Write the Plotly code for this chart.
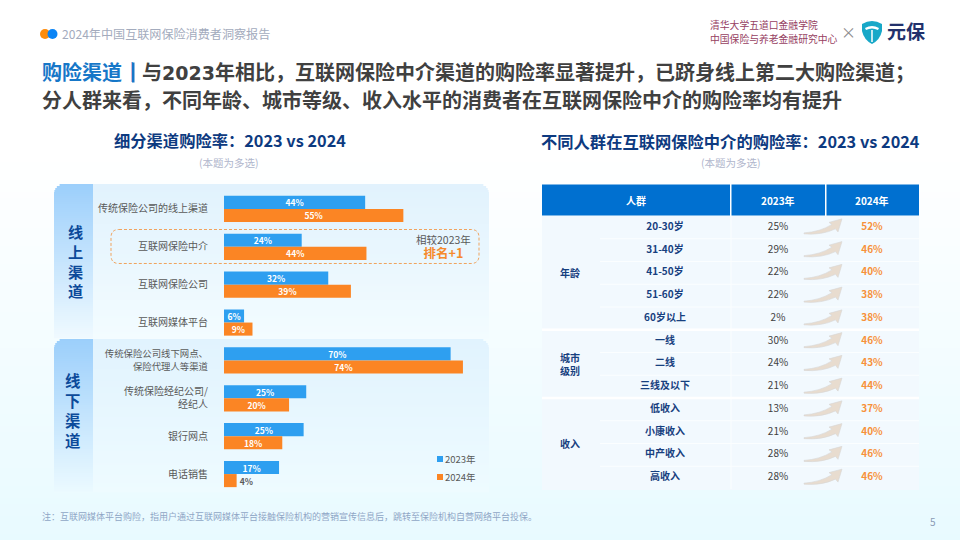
import math
import plotly.graph_objects as go

W, H = 960, 540
CJK = "Noto Sans CJK SC"

channels = ["传统保险公司的线上渠道", "互联网保险中介", "互联网保险公司", "互联网媒体平台",
            "传统保险公司线下网点、<br>保险代理人等渠道", "传统保险经纪公司/<br>经纪人", "银行网点", "电话销售"]
buy_2023 = [43.6, 24, 32.2, 6.2, 70, 25.4, 24.6, 17]
buy_2024 = [55.4, 44, 39.2, 8.8, 73.8, 20.1, 18, 3.9]

groups = ["年龄", "城市<br>级别", "收入"]
group_sizes = [5, 3, 4]
people = ["20-30岁", "31-40岁", "41-50岁", "51-60岁", "60岁以上", "一线", "二线", "三线及以下",
          "低收入", "小康收入", "中产收入", "高收入"]
rate_2023 = [25, 29, 22, 22, 2, 30, 24, 21, 13, 21, 28, 28]
rate_2024 = [52, 46, 40, 38, 38, 46, 43, 44, 37, 40, 46, 46]


def fx(px):
    return px / W


def fy(px):
    return 1 - px / H


def mix(c0, c1, t):
    return "rgb(%d,%d,%d)" % tuple(round(a + (b - a) * t) for a, b in zip(c0, c1))


shapes = []
annotations = []


def add_text(x, y, text, size, color, bold=False, anchor="center"):
    if bold:
        text = "<b>" + text + "</b>"
    if anchor == "left":
        x -= 2
    annotations.append(dict(x=fx(x), y=fy(y), xref="paper", yref="paper", text=text, showarrow=False,
                            xanchor=anchor, yanchor="middle", align=anchor,
                            font=dict(family=CJK, size=size, color=color)))


def add_rect(x0, y0, x1, y1, color):
    shapes.append(dict(type="rect", xref="paper", yref="paper", x0=fx(x0), x1=fx(x1), y0=fy(y0), y1=fy(y1),
                       fillcolor=color, line_width=0, layer="below"))


def add_line(x0, y0, x1, y1, color, width=1):
    shapes.append(dict(type="line", xref="paper", yref="paper", x0=fx(x0), x1=fx(x1), y0=fy(y0), y1=fy(y1),
                       line=dict(color=color, width=width), layer="below"))


def add_path(points, fill, line=None, dash=None, width=1):
    # pixel points, converted to paper coords
    out = []
    for cmd, *nums in points:
        xy = []
        for i in range(0, len(nums), 2):
            xy.append("%.5f,%.5f" % (fx(nums[i]), fy(nums[i + 1])))
        out.append(cmd + " " + " ".join(xy))
    shapes.append(dict(type="path", xref="paper", yref="paper", path=" ".join(out) + " Z", fillcolor=fill,
                       line=dict(color=line or "rgba(0,0,0,0)", width=width, dash=dash or "solid"), layer="below"))


def gradient(x0, x1, y0, y1, c0, c1, r=0, left_only=False, step=2):
    y = y0
    while y < y1:
        inset = 0
        if r and y - y0 < r:
            d = r - (y + step / 2 - y0)
            inset = r - math.sqrt(max(r * r - d * d, 0))
        right = x1 if left_only else x1 - inset
        add_rect(x0 + inset, y, right, min(y + step, y1) + 0.3, mix(c0, c1, (y - y0) / (y1 - y0)))
        y += step


# page background
gradient(0, W, 150, H, (255, 255, 255), (232, 250, 255), step=6)

# left panels
gradient(54, 489, 184, 338, (225, 242, 253), (243, 252, 255), r=10)
gradient(54, 489, 339, 492, (225, 243, 254), (238, 251, 255), r=10)
gradient(54, 93, 184, 338, (156, 207, 251), (240, 250, 255), r=10, left_only=True)
gradient(54, 93, 339, 492, (156, 207, 251), (236, 250, 255), r=10, left_only=True)

add_text(75, 260.5, "<br>".join("线上渠道"), 15.2, "#0c4a9a", bold=True)
add_text(72, 410, "<br>".join("线下渠道"), 15.4, "#0c4a9a", bold=True)

# dashed highlight around the intermediary row
a, b, c, d, r = 111, 229.5, 479, 263.5, 8
add_path([("M", a + r, b), ("L", c - r, b), ("Q", c, b, c, b + r), ("L", c, d - r), ("Q", c, d, c - r, d),
          ("L", a + r, d), ("Q", a, d, a, d - r), ("L", a, b + r), ("Q", a, b, a + r, b)],
         "rgba(0,0,0,0)", line="#f0a35e", dash="3px,2px")
add_text(443, 247.5, "相较2023年<br><span style='font-size:12.5px;color:#f58a2c'><b>排名+1</b></span>", 10.5, "#595959")

# legend
add_rect(437, 456, 443, 462, "#2e9ff0")
add_rect(437, 474, 443, 480, "#fb8524")
add_text(445, 458.5, "2023年", 9.5, "#595959", anchor="left")
add_text(445, 476.5, "2024年", 9.5, "#595959", anchor="left")

# table backgrounds
row_h = 22.75
top = 216
add_rect(542, 184.5, 730, 215.5, "#0070d0")
add_rect(731.5, 184.5, 825, 215.5, "#0070d0")
add_rect(826.5, 184.5, 919, 215.5, "#0070d0")
add_rect(542, top, 919, top + row_h * len(people) + 1, "#f2f9fe")
for i in range(1, len(people)):
    add_line(600, top + i * row_h, 919, top + i * row_h, "#fbfeff", 1)
add_line(731, top, 731, top + row_h * len(people), "#fbfeff", 1)

start = 0
for g, n in zip(groups, group_sizes):
    add_text(570, top + (start + n / 2) * row_h, g, 10, "#17407f", bold=True)
    start += n
    if start < len(people):
        add_line(542, top + start * row_h, 919, top + start * row_h, "#ffffff", 2.5)

add_text(636, 200, "人群", 10, "#ffffff", bold=True)
add_text(778, 200, "2023年", 10, "#ffffff", bold=True)
add_text(872, 200, "2024年", 10, "#ffffff", bold=True)

# arrows between the two years
for i in range(len(people)):
    cy = top + (i + 0.5) * row_h
    add_path([("M", 804, cy + 5.5), ("Q", 820, cy + 4.5, 832, cy - 3), ("L", 829, cy - 5), ("L", 842, cy - 8.5),
              ("L", 838, cy + 4.5), ("L", 835.5, cy + 1.5), ("Q", 822, cy + 8, 804, cy + 6.5)],
             "#e8dccf", line="#d6d6d6", width=0.6)

# header, titles
shapes.append(dict(type="circle", xref="paper", yref="paper", x0=fx(40), x1=fx(50), y0=fy(39), y1=fy(29),
                   fillcolor="#ff8c0a", line_width=0))
shapes.append(dict(type="circle", xref="paper", yref="paper", x0=fx(47.5), x1=fx(57.5), y0=fy(39), y1=fy(29),
                   fillcolor="#0a84f5", line_width=0))
add_text(62, 33.5, "2024年中国互联网保险消费者洞察报告", 12.1, "#a3abbd", anchor="left")
add_rect(132, 62.5, 134.5, 82.5, "#1677c8")
add_text(42, 71, "<span style='color:#1677c8'>购险渠道｜</span>与<span style='font-family:DejaVu Sans;font-size:19px'>2023</span>年相比，互联网保险中介渠道的购险率显著提升，已跻身线上第二大购险渠道；",
         20, "#404040", bold=True, anchor="left")
add_text(42, 100, "分人群来看，不同年龄、城市等级、收入水平的消费者在互联网保险中介的购险率均有提升",
         20, "#404040", bold=True, anchor="left")
add_text(229.5, 140, "细分渠道购险率：2023 vs 2024", 16.3, "#0d3a80", bold=True)
add_text(730.5, 141, "不同人群在互联网保险中介的购险率：2023 vs 2024", 16.3, "#0d3a80", bold=True)
add_text(229, 162, "(本题为多选)", 10.5, "#b0b6cc")
add_text(731, 162, "(本题为多选)", 10.5, "#b0b6cc")
add_text(42, 516, "注：互联网媒体平台购险，指用户通过互联网媒体平台接触保险机构的营销宣传信息后，跳转至保险机构自营网络平台投保。",
         9, "#8fa6c6", anchor="left")
add_text(933, 521, "5", 10, "#8a9ab5")

# logos
add_text(710, 25, "清华大学五道口金融学院", 9.8, "#96405f", anchor="left")
add_text(710, 39, "中国保险与养老金融研究中心", 9.8, "#96405f", anchor="left")
add_text(848, 31.5, "×", 15, "#8c8c8c")
add_path([("M", 862, 24), ("Q", 872, 18, 882, 24), ("L", 882, 31), ("Q", 880, 40, 872, 44), ("Q", 864, 40, 862, 31)],
         "#18a8c8")
add_path([("M", 865, 28), ("Q", 872, 24, 879, 28), ("L", 878, 30), ("Q", 872, 27, 866, 30)], "#ffffff")
add_line(872, 30, 872, 42, "#ffffff", 1.5)
add_text(905.5, 31, "元保", 19, "#22316c", bold=True)

# left chart
tick_labels = []
for c in channels:
    if c.startswith("传统保险公司线下"):
        c = "<br>".join(f"<span style='font-size:9.4px'>{part}</span>" for part in c.split("<br>"))
    tick_labels.append(c)

fig = go.Figure()
fig.add_trace(go.Bar(y=channels, x=buy_2023, name="2023年", orientation="h", marker=dict(color="#2e9ff0", line_width=0),
                     text=[f"{v:.0f}%" for v in buy_2023], textposition="inside", insidetextanchor="middle",
                     textfont=dict(family=CJK, size=8.5, color="#ffffff", weight="bold"), constraintext="none",
                     xaxis="x", yaxis="y", showlegend=False))
fig.add_trace(go.Bar(y=channels, x=buy_2024, name="2024年", orientation="h", marker=dict(color="#fb8524", line_width=0),
                     text=[f"{v:.0f}%" for v in buy_2024],
                     textposition=["inside"] * 7 + ["outside"],
                     insidetextanchor="middle",
                     textfont=dict(family=CJK, size=8.5, color=["#ffffff"] * 7 + ["#595959"], weight="bold"),
                     constraintext="none", xaxis="x", yaxis="y", showlegend=False))

# table text, one trace per column
fig.add_trace(go.Scatter(x=[665] * len(people), y=people, mode="text", text=people, xaxis="x2", yaxis="y2",
                         showlegend=False, textfont=dict(family=CJK, size=10, color="#17407f", weight="bold")))
fig.add_trace(go.Scatter(x=[778] * len(people), y=people, mode="text", text=[f"{v}%" for v in rate_2023],
                         xaxis="x2", yaxis="y2", showlegend=False,
                         textfont=dict(family=CJK, size=10, color="#404040")))
fig.add_trace(go.Scatter(x=[872] * len(people), y=people, mode="text", text=[f"{v}%" for v in rate_2024],
                         xaxis="x2", yaxis="y2", showlegend=False,
                         textfont=dict(family=CJK, size=10, color="#f7913a", weight="bold")))

fig.update_layout(
    width=W, height=H, margin=dict(l=0, r=0, t=0, b=0), paper_bgcolor="#ffffff", plot_bgcolor="rgba(0,0,0,0)",
    barmode="group", bargap=0.31, bargroupgap=0, shapes=shapes, annotations=annotations,
    font=dict(family=CJK),
    xaxis=dict(domain=[fx(224), fx(483)], range=[0, 80], visible=False, anchor="y"),
    yaxis=dict(domain=[fy(493), fy(190)], type="array" and "category", categoryorder="array", categoryarray=channels,
               tickmode="array", tickvals=channels, ticktext=tick_labels,
               range=[7.5, -0.5], anchor="x", showgrid=False, zeroline=False, showline=False,
               ticks="outside", ticklen=13, tickcolor="rgba(0,0,0,0)",
               tickfont=dict(family=CJK, size=10, color="#595959")),
    xaxis2=dict(domain=[fx(542), fx(919)], range=[542, 919], visible=False, anchor="y2"),
    yaxis2=dict(domain=[fy(top + row_h * len(people)), fy(top)], type="category", categoryorder="array",
                categoryarray=people, range=[len(people) - 0.5, -0.5], visible=False, anchor="x2"),
)

fig.write_html("out.html", config=dict(displayModeBar=False), post_script="document.body.style.margin='0'")
